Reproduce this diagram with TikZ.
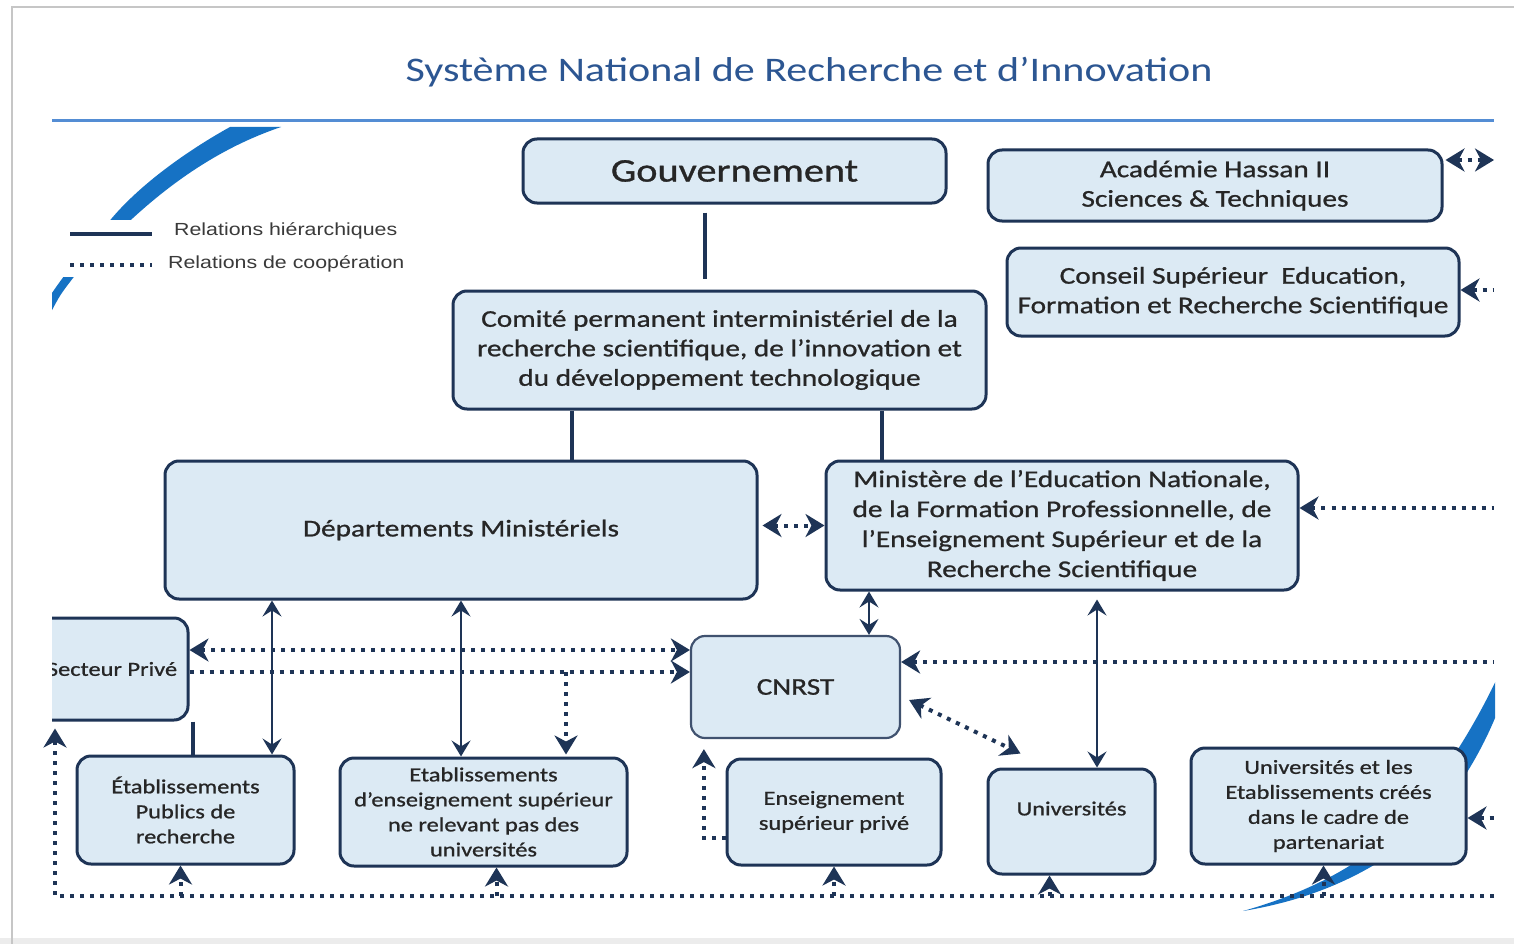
\documentclass[tikz,border=0pt]{standalone}
\usepackage{fontspec}
\usetikzlibrary{arrows.meta,calc}
\newfontfamily\boxfont[FakeStretch=1.22,FakeBold=0.9]{Carlito}
\newfontfamily\titlefont[FakeStretch=1.22]{Carlito}
\newfontfamily\legfont[FakeStretch=1.22]{Liberation Sans}
\definecolor{navy}{RGB}{30,52,86}
\definecolor{boxfill}{RGB}{220,234,244}
\definecolor{ink}{RGB}{38,38,38}
\definecolor{titleblue}{RGB}{44,86,146}
\definecolor{rulecol}{RGB}{84,141,212}
\definecolor{swoosh}{RGB}{22,114,196}
\definecolor{leggray}{RGB}{58,58,58}
\tikzset{
  box/.style={draw=navy, line width=3pt, fill=boxfill, rounded corners=14pt,
    align=center, inner sep=0pt, text=ink},
  bigtext/.style={font=\boxfont\fontsize{24}{29.5}\selectfont},
  smalltext/.style={font=\boxfont\fontsize{20}{25}\selectfont},
  hier/.style={draw=navy, line width=3.2pt},
  link/.style={draw=navy, line width=1.8pt, <->},
  coop/.style={draw=navy, line width=4pt, dash pattern=on 4pt off 6pt},
  legtext/.style={font=\legfont\fontsize{17.5}{20}\selectfont, text=leggray, anchor=west, inner sep=0pt},
}
\begin{document}
\begin{tikzpicture}[x=1pt, y=-1pt, >={Stealth[length=19pt,width=23pt,inset=6pt]}]
\useasboundingbox (0,0) rectangle (1514,944);
\fill[white] (0,0) rectangle (1514,944);
% page edges
\fill[gray!15] (0,938) rectangle (1514,944);
\draw[gray!45, line width=2pt] (12,944) -- (12,7) -- (1514,7);

% title and rule
\node[font=\titlefont\fontsize{34.5}{40}\selectfont, text=titleblue] (title) at (809,72)
  {Système National de Recherche et d’Innovation};
\draw[rulecol, line width=3pt] (52,121) -- (1494,121);

% decorative swooshes
\begin{scope}
  \clip (52,124) rectangle (420,330);
  \fill[swoosh] (230,127) .. controls (185,152) and (140,185) .. (112,218)
    .. controls (92,242) and (70,265) .. (46,302)
    -- (50,314) .. controls (60,295) .. (73,278)
    .. controls (100,250) and (115,235) .. (133,218)
    .. controls (180,175) and (228,145) .. (281,127) -- cycle;
\end{scope}
\begin{scope}
  \clip (1200,600) rectangle (1495,930);
  \fill[swoosh] (1502,668) .. controls (1480,715) and (1450,770) .. (1400,825)
    .. controls (1360,868) and (1300,895) .. (1243,911)
    .. controls (1310,900) and (1370,875) .. (1420,832)
    .. controls (1460,792) and (1487,742) .. (1502,700) -- cycle;
\end{scope}

% legend
\fill[white] (52,220) rectangle (420,277);
\draw[hier] (70,234) -- (152,234);
\draw[coop] (70,265) -- (152,265);
\node[legtext] (leg1) at (174,231) {Relations hiérarchiques};
\node[legtext] (leg2) at (168,264) {Relations de coopération};

% boxes
\node[box, font=\boxfont\fontsize{33}{38}\selectfont, minimum width=423pt, minimum height=64pt]
  (gouv) at (734.5,171) {Gouvernement};
\node[box, bigtext, minimum width=454pt, minimum height=71pt]
  (acad) at (1215,185.5) {Académie Hassan II\\Sciences \& Techniques};
\node[box, bigtext, minimum width=452pt, minimum height=88pt]
  (cons) at (1233,292) {Conseil Supérieur\ \ Education,\\Formation et Recherche Scientifique};
\node[box, bigtext, minimum width=533pt, minimum height=118pt]
  (comite) at (719.5,350) {Comité permanent interministériel de la\\recherche scientifique, de l’innovation et\\du développement technologique};
\node[box, bigtext, minimum width=592pt, minimum height=138pt]
  (dept) at (461,530) {Départements Ministériels};
\node[box, font=\boxfont\fontsize{24}{30}\selectfont, minimum width=472pt, minimum height=129pt]
  (mini) at (1062,525.5) {Ministère de l’Education Nationale,\\de la Formation Professionnelle, de\\l’Enseignement Supérieur et de la\\Recherche Scientifique};
\begin{scope}
  \clip (52,600) rectangle (400,740);
  \node[box, smalltext, minimum width=152pt, minimum height=102pt]
    (secteur) at (112,669) {Secteur Privé};
\end{scope}
\node[box, bigtext, line width=2.2pt, draw=navy!85, minimum width=209pt, minimum height=102pt]
  (cnrst) at (795.5,687) {CNRST};
\node[box, smalltext, minimum width=217pt, minimum height=108pt]
  (epr) at (185.5,810) {Établissements\\Publics de\\recherche};
\node[box, smalltext, minimum width=287pt, minimum height=108pt]
  (eens) at (483.5,812) {Etablissements\\d’enseignement supérieur\\ne relevant pas des\\universités};
\node[box, smalltext, minimum width=214pt, minimum height=106pt]
  (esp) at (834,812) {Enseignement\\supérieur privé};
\node[box, smalltext, text depth=26pt, minimum width=167pt, minimum height=105pt]
  (univ) at (1071.5,821.5) {Universités};
\node[box, smalltext, minimum width=275pt, minimum height=116pt]
  (upart) at (1328.5,806) {Universités et les\\Etablissements créés\\dans le cadre de\\partenariat};

% reference abscissae and ordinates for connectors
\coordinate (xg) at (705,0);
\coordinate (xc1) at (572,0);
\coordinate (xc2) at (882,0);
\coordinate (xs) at (193,0);
\coordinate (x272) at (272,0);
\coordinate (x461) at (461,0);
\coordinate (x869) at (869,0);
\coordinate (x1097) at (1097,0);
\coordinate (x566) at (566,0);
\coordinate (xb1) at (180.5,0);
\coordinate (xb2) at (496.5,0);
\coordinate (xb3) at (834,0);
\coordinate (xb4) at (1049.5,0);
\coordinate (xb5) at (1323.5,0);
\coordinate (y160) at (0,160);
\coordinate (y290) at (0,290);
\coordinate (y508) at (0,508);
\coordinate (y650) at (0,650);
\coordinate (y662) at (0,662);
\coordinate (y672) at (0,672);
\coordinate (y818) at (0,818);
\coordinate (y838) at (0,838);
\coordinate (edge) at (1494,0);

% hierarchical relations
\draw[hier, shorten <=8pt, shorten >=11pt] (gouv.south -| xg) -- (comite.north -| xg);
\draw[hier] (comite.south -| xc1) -- (dept.north -| xc1);
\draw[hier] (comite.south -| xc2) -- (mini.north -| xc2);
\draw[hier] (secteur.south -| xs) -- (epr.north -| xs);

% supervision links
\begin{scope}[>={Stealth[length=16pt,width=19pt,inset=6pt]}]
\draw[link] (dept.south -| x272) -- (epr.north -| x272);
\draw[link] (dept.south -| x461) -- (eens.north -| x461);
\draw[link] (mini.south -| x869) -- (cnrst.north -| x869);
\draw[link, shorten <=8pt] (mini.south -| x1097) -- (univ.north -| x1097);
\end{scope}

% cooperation relations
\draw[coop, <->, shorten <=4pt] (dept.east |- mini.west) -- (mini.west);
\draw[coop, <->, shorten <=2pt] (acad.east |- y160) -- (edge |- y160);
\draw[coop, <-] (cons.east |- y290) -- (edge |- y290);
\draw[coop, <-] (mini.east |- y508) -- (edge |- y508);
\draw[coop, <-] (cnrst.east |- y662) -- (edge |- y662);
\draw[coop, <-] (upart.east |- y818) -- (edge |- y818);
\draw[coop, <->] (secteur.east |- y650) -- (cnrst.west |- y650);
\draw[coop, ->] (secteur.east |- y672) -- (cnrst.west |- y672);
\draw[coop, ->, shorten >=2pt] (x566 |- y672) -- (eens.north -| x566);
\draw[coop, <->] ($(cnrst.east)+(8,13)$) -- ($(univ.north west)+(34,-14)$);
\draw[coop, ->] (esp.west |- y838) -| ($(cnrst.south west)+(14,10)$);

% bottom cooperation line
\coordinate (busL) at (55,896);
\coordinate (busR) at (1494,896);
\draw[coop, ->, shorten >=7pt] (busR) -- (busL) -- (busL |- secteur.south);
\draw[coop, ->] (xb1 |- busL) -- (xb1 |- epr.south);
\draw[coop, ->] (xb2 |- busL) -- (xb2 |- eens.south);
\draw[coop, ->] (xb3 |- busL) -- (xb3 |- esp.south);
\draw[coop, ->] (xb4 |- busL) -- (xb4 |- univ.south);
\draw[coop, ->] (xb5 |- busL) -- (xb5 |- upart.south);
\end{tikzpicture}
\end{document}
